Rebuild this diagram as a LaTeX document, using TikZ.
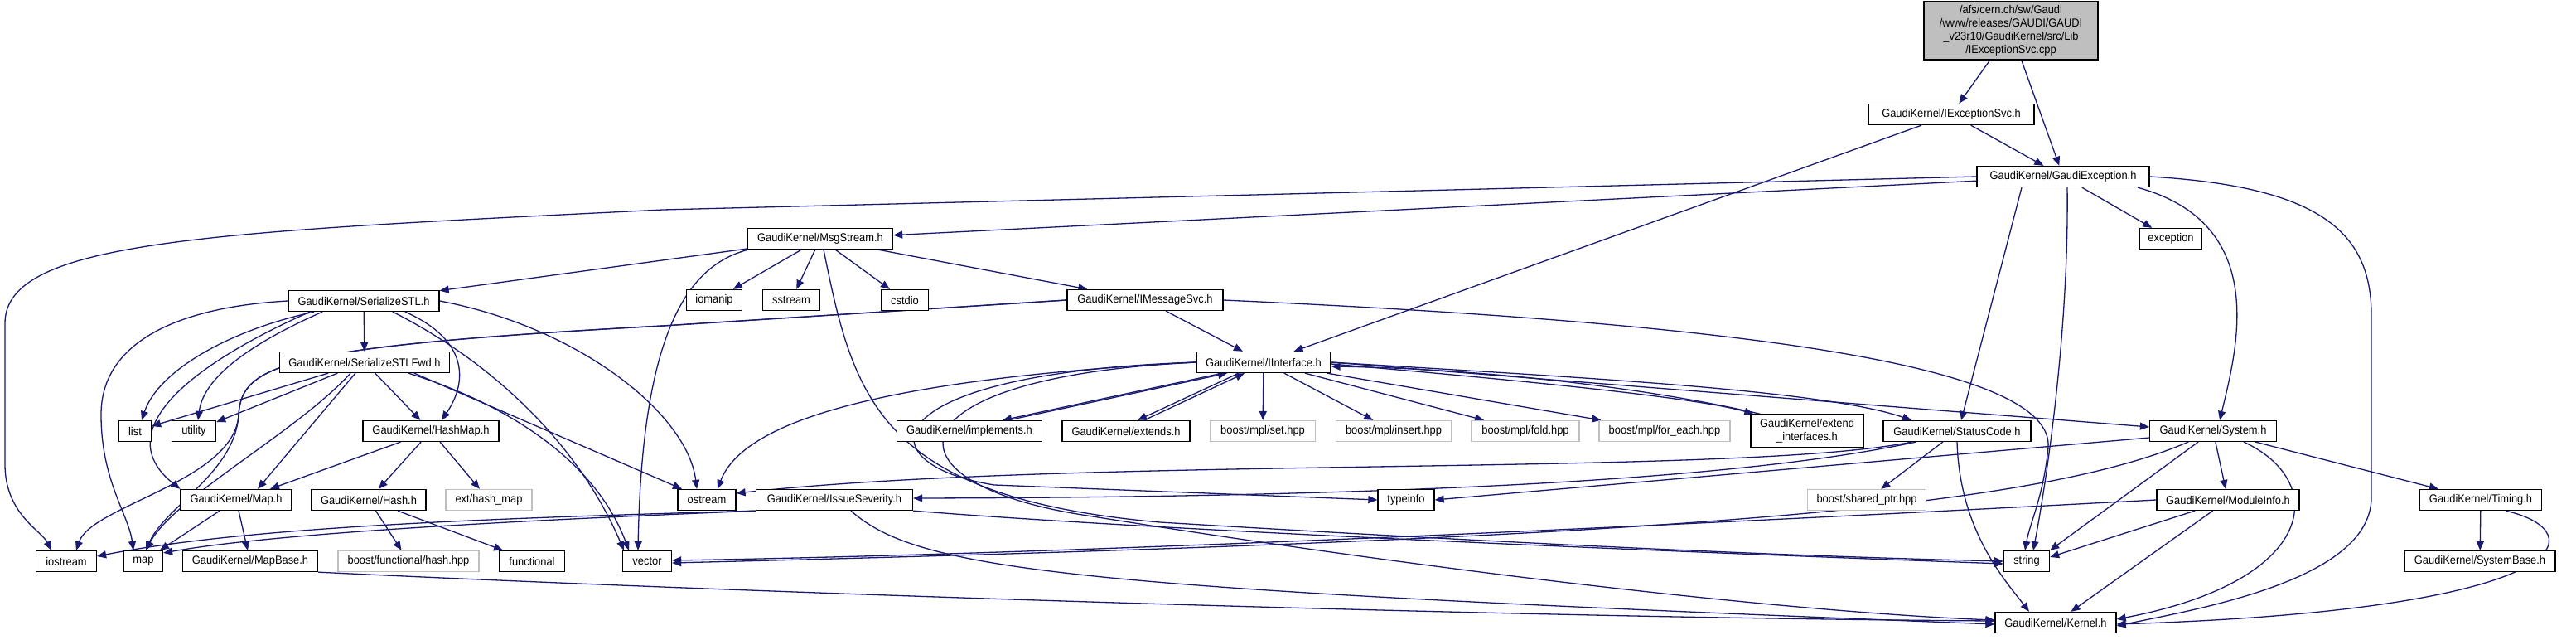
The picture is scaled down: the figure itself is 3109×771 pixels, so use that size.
\documentclass[tikz,border=0pt]{standalone}
\usepackage{fontspec}
\setmainfont{Liberation Sans}[FakeStretch=0.92]
\usetikzlibrary{arrows.meta}
\definecolor{edgecol}{HTML}{191970}
\definecolor{lgray}{HTML}{BFBFBF}
\pgfdeclarelayer{bg}
\pgfsetlayers{bg,main}
\begin{document}
\begin{tikzpicture}[x=1pt,y=-1pt,
  hdr/.style={draw=black, line width=1.3pt, fill=white, minimum height=25pt, inner sep=0pt, font=\fontsize{14}{16}\selectfont, align=center},
  ext/.style={hdr, draw=lgray},
  dep/.style={draw=edgecol, line width=1.3pt, -{Triangle[length=11pt,width=9pt]}}]
\useasboundingbox (0,0) rectangle (3109,771);
% nodes
\node[hdr, fill=lgray, minimum width=210pt, minimum height=70pt] (root) at (2427,37) {/afs/cern.ch/sw/Gaudi\\/www/releases/GAUDI/GAUDI\\\_v23r10/GaudiKernel/src/Lib\\/IExceptionSvc.cpp};
\node[hdr, minimum width=200pt] (iexc) at (2355,138) {GaudiKernel/IExceptionSvc.h};
\node[hdr, minimum width=208pt] (gexc) at (2490,213) {GaudiKernel/GaudiException.h};
\node[hdr, minimum width=175pt] (msgs) at (990,288) {GaudiKernel/MsgStream.h};
\node[hdr, minimum width=75pt] (exc) at (2620,288) {exception};
\node[hdr, minimum width=182pt] (sstl) at (439,363) {GaudiKernel/SerializeSTL.h};
\node[hdr, minimum width=67pt] (iomanip) at (862,362) {iomanip};
\node[hdr, minimum width=69pt] (sstream) at (955,362) {sstream};
\node[hdr, minimum width=57pt] (cstdio) at (1092,362) {cstdio};
\node[hdr, minimum width=188pt] (imsg) at (1382,362) {GaudiKernel/IMessageSvc.h};
\node[hdr, minimum width=205pt] (fwd) at (440,437) {GaudiKernel/SerializeSTLFwd.h};
\node[hdr, minimum width=162pt] (iif) at (1525,437) {GaudiKernel/IInterface.h};
\node[hdr, minimum width=39pt] (list) at (163,520) {list};
\node[hdr, minimum width=53pt] (utility) at (234,520) {utility};
\node[hdr, minimum width=164pt] (hashmap) at (520,520) {GaudiKernel/HashMap.h};
\node[hdr, minimum width=175pt] (impl) at (1170,520) {GaudiKernel/implements.h};
\node[hdr, minimum width=154pt] (extends) at (1359,520) {GaudiKernel/extends.h};
\node[ext, minimum width=127pt] (mset) at (1524,520) {boost/mpl/set.hpp};
\node[ext, minimum width=139pt] (minsert) at (1682,520) {boost/mpl/insert.hpp};
\node[ext, minimum width=130pt] (mfold) at (1841,520) {boost/mpl/fold.hpp};
\node[ext, minimum width=158pt] (mforeach) at (2009,520) {boost/mpl/for\_each.hpp};
\node[hdr, minimum width=136pt, minimum height=40pt] (extif) at (2181,520) {GaudiKernel/extend\\\_interfaces.h};
\node[hdr, minimum width=178pt] (status) at (2362,520) {GaudiKernel/StatusCode.h};
\node[hdr, minimum width=153pt] (system) at (2671,520) {GaudiKernel/System.h};
\node[hdr, minimum width=134pt] (maph) at (285,603) {GaudiKernel/Map.h};
\node[hdr, minimum width=138pt] (hashh) at (445,603) {GaudiKernel/Hash.h};
\node[ext, minimum width=104pt] (exthm) at (590,603) {ext/hash\_map};
\node[hdr, minimum width=70pt] (ostream) at (853,603) {ostream};
\node[hdr, minimum width=189pt] (issue) at (1007,603) {GaudiKernel/IssueSeverity.h};
\node[hdr, minimum width=68pt] (typeinfo) at (1697,603) {typeinfo};
\node[ext, minimum width=143pt] (sptr) at (2253,603) {boost/shared\_ptr.hpp};
\node[hdr, minimum width=172pt] (modinfo) at (2689,603) {GaudiKernel/ModuleInfo.h};
\node[hdr, minimum width=147pt] (timing) at (2994,603) {GaudiKernel/Timing.h};
\node[hdr, minimum width=73pt] (iostream) at (80,677) {iostream};
\node[hdr, minimum width=47pt] (map) at (173,677) {map};
\node[hdr, minimum width=163pt] (mapbase) at (302,677) {GaudiKernel/MapBase.h};
\node[ext, minimum width=170pt] (bhash) at (493,677) {boost/functional/hash.hpp};
\node[hdr, minimum width=79pt] (functional) at (642,677) {functional};
\node[hdr, minimum width=59pt] (vector) at (781,677) {vector};
\node[hdr, minimum width=55pt] (string) at (2446,677) {string};
\node[hdr, minimum width=182pt] (sysbase) at (2993,677) {GaudiKernel/SystemBase.h};
\node[hdr, minimum width=146pt] (kernel) at (2481,751) {GaudiKernel/Kernel.h};
% edges
\begin{pgfonlayer}{bg}
\fill[white] (0,0) rectangle (3109,771);
\draw[dep] (root) -- (iexc);
\draw[dep] (root) -- (gexc);
\draw[dep] (iexc) -- (gexc);
\draw[dep] ([xshift=-36pt]iexc.south) -- (iif);
% GaudiException
\draw[dep] (gexc) -- (msgs);
\draw[dep] (gexc.west) -- (800,253) .. controls (250,280) and (6,290) .. (6,390) -- (6,560) .. controls (6,620) and (50,640) .. ([xshift=-18pt]iostream.north);
\draw[dep] (gexc) -- (exc);
\draw[dep] ([xshift=5pt]gexc.south) .. controls (2497,400) and (2470,580) .. ([xshift=8pt]string.north);
\draw[dep] ([xshift=-50pt]gexc.south) -- ([xshift=5pt]status.north);
\draw[dep] ([xshift=90pt]gexc.south) .. controls (2740,270) and (2700,420) .. ([xshift=8pt]system.north);
\draw[dep] (gexc.east) .. controls (2800,225) and (2862,280) .. (2862,380) -- (2862,600) .. controls (2862,700) and (2650,735) .. ([yshift=-4pt]kernel.east);
% MsgStream
\draw[dep] (msgs) -- (sstl);
\draw[dep] (msgs) -- (iomanip);
\draw[dep] (msgs) -- (sstream);
\draw[dep] (msgs) -- (cstdio);
\draw[dep] (msgs) -- (imsg);
\draw[dep] ([xshift=-87pt]msgs.south) .. controls (830,320) and (775,400) .. ([xshift=-11pt]vector.north);
\draw[dep] ([xshift=4pt]msgs.south) .. controls (1030,480) and (1060,600) .. (1400,630) .. controls (1900,660) and (2200,672) .. (string.west);
% SerializeSTL
\draw[dep] (sstl) -- (fwd);
\draw[dep] ([xshift=-60pt]sstl.south) .. controls (270,400) and (190,450) .. ([xshift=8pt]list.north);
\draw[dep] ([xshift=-50pt]sstl.south) .. controls (290,420) and (245,460) .. ([xshift=5pt]utility.north);
\draw[dep] (sstl.west) .. controls (220,370) and (122,410) .. (122,500) .. controls (122,580) and (155,620) .. ([xshift=-12pt]map.north);
\draw[dep] ([xshift=-65pt]sstl.south) .. controls (230,440) and (130,520) .. (maph.north west);
\draw[dep] ([xshift=50pt]sstl.south) .. controls (565,410) and (565,460) .. ([xshift=13pt]hashmap.north);
\draw[dep] (sstl.east) .. controls (700,395) and (830,500) .. ([xshift=-12pt]ostream.north);
\draw[dep] ([xshift=35pt]sstl.south) .. controls (600,440) and (700,540) .. ([xshift=-28pt]vector.north);
% SerializeSTLFwd
\draw[dep] (fwd) -- (list);
\draw[dep] (fwd) -- (utility);
\draw[dep] (fwd) -- (hashmap);
\draw[dep] ([xshift=-17pt]fwd.south) .. controls (360,520) and (210,600) .. ([xshift=3pt]map.north);
\draw[dep] (fwd) -- ([xshift=26pt]maph.north);
\draw[dep] ([xshift=53pt]fwd.south) .. controls (620,490) and (720,560) .. ([xshift=-22pt]vector.north);
\draw[dep] ([xshift=60pt]fwd.south) -- ([xshift=-30pt]ostream.north);
% HashMap, Map, Hash, MapBase
\draw[dep] (hashmap) -- ([xshift=41pt]maph.north);
\draw[dep] (hashmap) -- (hashh);
\draw[dep] (hashmap) -- (exthm);
\draw[dep] (maph) -- (map);
\draw[dep] (maph) -- (mapbase);
\draw[dep] (hashh) -- (bhash);
\draw[dep] (hashh) -- (functional);
\draw[dep] (mapbase.south east) .. controls (900,715) and (1800,745) .. ([yshift=2pt]kernel.west);
% IMessageSvc
\draw[dep] (imsg) -- (iif);
\draw[dep] (imsg.east) .. controls (2100,390) and (2480,440) .. (2472,540) .. controls (2466,600) and (2450,630) .. ([xshift=-2pt]string.north);
\draw[dep] (imsg.west) -- (800,393) .. controls (340,418) and (292,440) .. (288,500) .. controls (284,570) and (200,610) .. ([xshift=3pt]map.north);
\draw[dep] (imsg.west) -- (800,393) .. controls (340,418) and (292,440) .. (288,500) .. controls (284,580) and (110,610) .. ([xshift=12pt]iostream.north);
% IInterface
\draw[dep] (iif.west) .. controls (1100,455) and (900,500) .. ([xshift=13pt]ostream.north);
\draw[dep] ([xshift=-50pt]iif.south) -- ([xshift=40pt]impl.north);
\draw[dep] ([xshift=47pt]impl.north) -- ([xshift=-44pt]iif.south);
\draw[dep] ([xshift=-30pt]iif.south) -- ([xshift=14pt]extends.north);
\draw[dep] ([xshift=22pt]extends.north) -- ([xshift=-23pt]iif.south);
\draw[dep] (iif) -- (mset);
\draw[dep] (iif) -- (minsert);
\draw[dep] (iif) -- (mfold);
\draw[dep] (iif) -- (mforeach);
\draw[dep] ([yshift=-2pt]iif.east) .. controls (1850,460) and (2050,480) .. ([xshift=4pt]extif.north west);
\draw[dep] ([xshift=12pt]extif.north west) .. controls (2000,470) and (1800,445) .. ([yshift=-5pt]iif.east);
\draw[dep] (iif.east) .. controls (1900,455) and (2200,470) .. ([xshift=-55pt]status.north);
\draw[dep] (iif.east) -- ([yshift=5pt]system.west);
\draw[dep] (iif.west) .. controls (1050,450) and (1040,560) .. (1200,585) -- (typeinfo.west);
\draw[dep] (iif.west) .. controls (1070,455) and (1060,580) .. (1300,620) .. controls (1800,700) and (2200,740) .. ([yshift=3pt]kernel.west);
% StatusCode
\draw[dep] ([xshift=-55pt]status.south) .. controls (2100,575) and (1300,550) .. ([yshift=8pt]ostream.east);
\draw[dep] ([xshift=-50pt]status.south) .. controls (2050,590) and (1500,600) .. ([yshift=2pt]issue.east);
\draw[dep] (status) -- (sptr);
\draw[dep] (status.south) .. controls (2365,640) and (2420,700) .. ([xshift=-32pt]kernel.north);
% System
\draw[dep] ([yshift=-8pt]system.west) -- (typeinfo.east);
\draw[dep] ([xshift=-30pt]system.south) .. controls (2450,615) and (2000,650) .. ([yshift=-2pt]vector.east);
\draw[dep] ([xshift=-18pt]system.south) -- (string.north east);
\draw[dep] (system) -- (modinfo);
\draw[dep] (system) -- (timing);
\draw[dep] ([xshift=37pt]system.south) .. controls (2810,580) and (2800,700) .. ([yshift=4pt]kernel.east);
% ModuleInfo, Timing
\draw[dep] ([xshift=-40pt]modinfo.south) -- ([yshift=5pt]string.east);
\draw[dep] (modinfo.west) .. controls (2000,635) and (1300,668) .. ([yshift=1pt]vector.east);
\draw[dep] (modinfo) -- (kernel);
\draw[dep] (timing) -- (sysbase);
\draw[dep] ([xshift=30pt]timing.south) .. controls (3130,640) and (3120,735) .. ([yshift=-2pt]kernel.east);
% IssueSeverity
\draw[dep] (issue.south west) .. controls (600,625) and (300,635) .. ([yshift=6pt]iostream.east);
\draw[dep] (issue.south west) .. controls (700,625) and (350,640) .. ([yshift=10pt]map.east);
\draw[dep] (issue.south east) .. controls (1400,640) and (2000,665) .. ([yshift=-3pt]string.west);
\draw[dep] ([xshift=20pt]issue.south) .. controls (1110,690) and (1300,710) .. ([yshift=-2pt]kernel.west);
\end{pgfonlayer}
\end{tikzpicture}
\end{document}
